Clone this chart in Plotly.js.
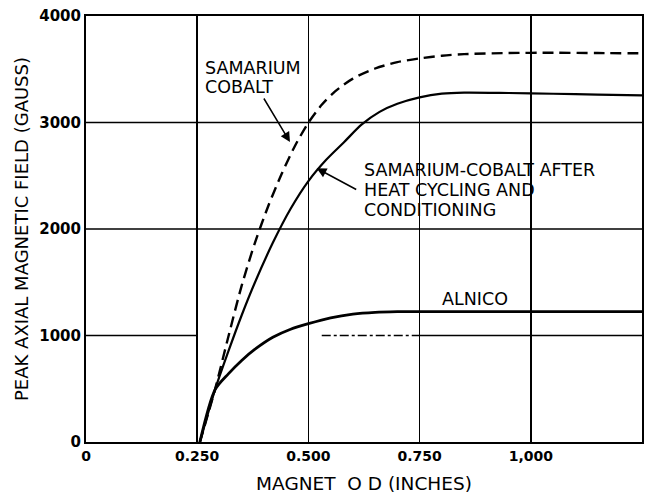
<!DOCTYPE html>
<html>
<head>
<meta charset="utf-8">
<script src="https://cdn.plot.ly/plotly-3.0.1.min.js"></script>
<style>
  html, body { margin: 0; padding: 0; background: #fff; }
  #chart { width: 659px; height: 497px; }
</style>
</head>
<body>
<div id="chart"></div>
<script>
// Magnet outside diameter (inches) and peak axial magnetic field (gauss)
const smCoX = [0.256, 0.29, 0.32, 0.35, 0.38, 0.41, 0.44, 0.47, 0.50, 0.53, 0.56, 0.60, 0.65, 0.70, 0.75, 0.80, 0.85, 0.95, 1.05, 1.15, 1.25];
const smCoY = [0, 493, 988, 1468, 1873, 2218, 2518, 2782, 2998, 3166, 3292, 3412, 3507, 3567, 3602, 3627, 3642, 3652, 3655, 3652, 3650];

const smCoHeatX = [0.256, 0.29, 0.32, 0.35, 0.38, 0.42, 0.46, 0.50, 0.54, 0.58, 0.62, 0.66, 0.70, 0.75, 0.80, 0.85, 0.95, 1.05, 1.15, 1.25];
const smCoHeatY = [0, 490, 850, 1190, 1500, 1870, 2190, 2450, 2650, 2815, 2982, 3100, 3176, 3236, 3271, 3281, 3277, 3270, 3262, 3255];

const alnicoX = [0.256, 0.29, 0.32, 0.35, 0.38, 0.42, 0.46, 0.50, 0.55, 0.60, 0.65, 0.70, 0.75, 0.85, 1.0, 1.25];
const alnicoY = [0, 490, 640, 766, 871, 983, 1059, 1111, 1166, 1201, 1218, 1224, 1225, 1225, 1225, 1225];

const xTickVals = [0, 0.25, 0.5, 0.75, 1.0, 1.25];
const xTickText = ['0', '0.250', '0.500', '0.750', '1,000', '1,250'];
const yTickVals = [0, 1000, 2000, 3000, 4000];
const yTickText = ['0', '1000', '2000', '3000', '4000'];

const FONT = 'DejaVu Sans, Liberation Sans, sans-serif';

const traces = [
  { x: smCoX, y: smCoY, name: 'SAMARIUM COBALT', mode: 'lines',
    line: { color: '#000', width: 2.4, dash: '11px,6px', shape: 'spline', smoothing: 0.8 } },
  { x: smCoHeatX, y: smCoHeatY, name: 'SAMARIUM-COBALT AFTER HEAT CYCLING AND CONDITIONING', mode: 'lines',
    line: { color: '#000', width: 2.2, shape: 'spline', smoothing: 0.8 } },
  { x: alnicoX, y: alnicoY, name: 'ALNICO', mode: 'lines',
    line: { color: '#000', width: 2.8, shape: 'spline', smoothing: 0.8 } }
];

const txt = (s, x, y, anchor) => ({
  text: s, x: x, y: y, xref: 'x', yref: 'y', showarrow: false,
  xanchor: anchor || 'left', yanchor: 'middle',
  font: { family: FONT, size: 17.5, color: '#000' }
});

const arrow = (x, y, ax, ay) => ({
  text: '', x: x, y: y, xref: 'x', yref: 'y', showarrow: true,
  ax: ax, ay: ay, arrowhead: 2, arrowsize: 1.3, arrowwidth: 1.5,
  arrowcolor: '#000', standoff: 0
});

// horizontal grid lines drawn from the y tick values (the 1000 line is broken in the original print)
const gridShapes = [];
yTickVals.filter(v => v > 0 && v < 4000).forEach(v => {
  const segs = (v === 1000)
    ? [[0, 0.25, 'solid'], [0.53, 0.75, 'dashdot'], [0.75, 1.25, 'solid']]
    : [[0, 1.25, 'solid']];
  segs.forEach(s => gridShapes.push({
    type: 'line', xref: 'x', yref: 'y', x0: s[0], x1: s[1], y0: v, y1: v,
    layer: 'below', line: { color: '#000', width: 1.5, dash: s[2] }
  }));
});

const layout = {
  width: 659, height: 497,
  margin: { l: 86, r: 17, t: 16, b: 55 },
  paper_bgcolor: '#fff', plot_bgcolor: '#fff',
  showlegend: false,
  font: { family: FONT, color: '#000' },
  xaxis: {
    range: [0, 1.25], tickvals: xTickVals, ticktext: xTickText,
    ticks: '', showgrid: true, gridcolor: '#000', gridwidth: 1.5,
    zeroline: false, showline: true, linecolor: '#000', linewidth: 2, mirror: true,
    tickfont: { family: FONT, size: 14, weight: 'bold', color: '#000' },
    title: { text: 'MAGNET&nbsp;&nbsp;O D (INCHES)', standoff: 14,
             font: { family: FONT, size: 18.5, color: '#000' } }
  },
  yaxis: {
    range: [0, 4000], tickvals: yTickVals, ticktext: yTickText,
    ticks: '', showgrid: false,
    zeroline: false, showline: true, linecolor: '#000', linewidth: 2, mirror: true,
    tickfont: { family: FONT, size: 15, weight: 'bold', color: '#000' },
    title: { text: 'PEAK AXIAL MAGNETIC FIELD (GAUSS)', standoff: 6,
             font: { family: FONT, size: 18, color: '#000' } }
  },
  shapes: gridShapes,
  annotations: [
    txt('SAMARIUM', 0.263, 3512),
    txt('COBALT', 0.263, 3338),
    arrow(0.4586, 2817, -27, -45),
    txt('SAMARIUM-COBALT AFTER', 0.620, 2554),
    txt('HEAT CYCLING AND', 0.620, 2366),
    txt('CONDITIONING', 0.620, 2178),
    arrow(0.5187, 2570, 41, 22),
    txt('ALNICO', 0.8745, 1343, 'center')
  ]
};

Plotly.newPlot('chart', traces, layout, { staticPlot: true, displayModeBar: false });
</script>
</body>
</html>
